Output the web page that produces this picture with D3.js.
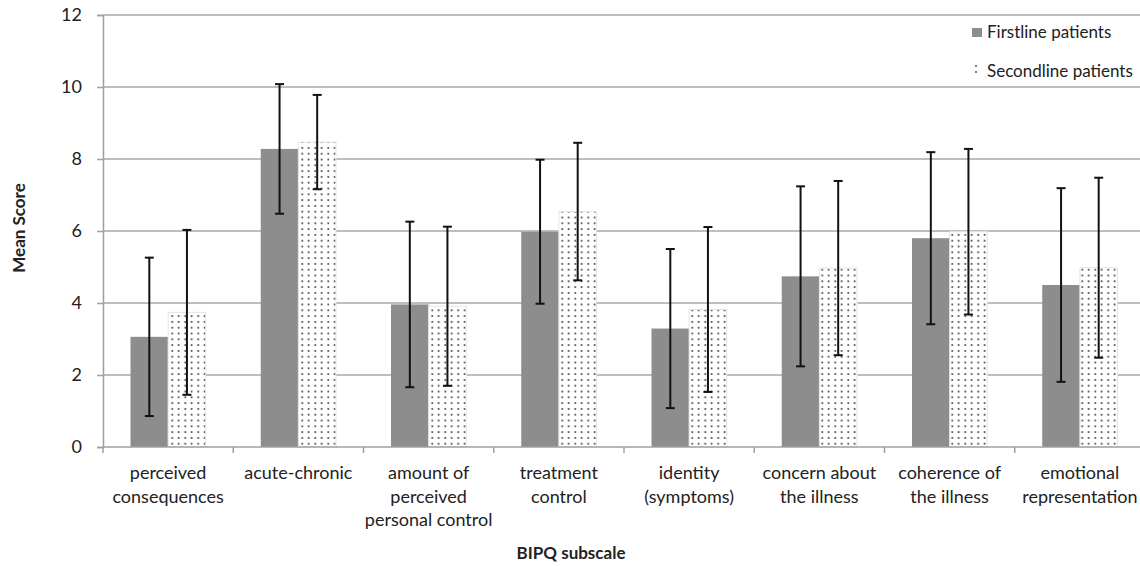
<!DOCTYPE html>
<html>
<head>
<meta charset="utf-8">
<script src="https://cdn.jsdelivr.net/npm/d3@7"></script>
<style>
  html, body { margin: 0; padding: 0; background: #fff; }
  svg { display: block; font-family: Lato, "Open Sans", sans-serif; }
</style>
</head>
<body>
<svg id="chart" width="1140" height="566"></svg>
<script>
const categories = [
  ["perceived", "consequences"],
  ["acute-chronic"],
  ["amount of", "perceived", "personal control"],
  ["treatment", "control"],
  ["identity", "(symptoms)"],
  ["concern about", "the illness"],
  ["coherence of", "the illness"],
  ["emotional", "representation"]
];
const seriesNames = ["Firstline patients", "Secondline patients"];
const firstlineMean = [3.06, 8.28, 3.96, 5.98, 3.29, 4.74, 5.80, 4.50];
const firstlineSD   = [2.20, 1.80, 2.30, 2.00, 2.21, 2.50, 2.39, 2.69];
const secondlineMean = [3.74, 8.47, 3.91, 6.54, 3.82, 4.97, 5.98, 4.98];
const secondlineSD   = [2.29, 1.31, 2.21, 1.91, 2.29, 2.42, 2.30, 2.50];
const yTicks = [0, 2, 4, 6, 8, 10, 12];

const svg = d3.select("#chart");
const margin = { left: 103, top: 15, right: -5, bottom: 119 };
const W = 1140, H = 566;
const x0 = margin.left, x1 = W - margin.right;
const yTop = margin.top, yBot = H - margin.bottom;
const FONT = "Lato, 'Open Sans', sans-serif";

const defs = svg.append("defs");
const pat = defs.append("pattern").attr("id", "dots")
  .attr("patternUnits", "userSpaceOnUse").attr("width", 6.5).attr("height", 5.8);
pat.append("rect").attr("width", 6.5).attr("height", 5.8).attr("fill", "#fff");
pat.append("circle").attr("cx", 3.2).attr("cy", 2.9).attr("r", 0.95).attr("fill", "#333");

const idx = d3.range(categories.length);
const x = d3.scaleBand().domain(idx).range([x0, x1]).paddingInner(0).paddingOuter(0);
const y = d3.scaleLinear().domain([0, 12]).range([yBot, yTop]);
const inner = d3.scaleBand().domain([0, 1]).range([27.5, x.bandwidth() - 27.5]);

// gridlines
svg.append("g").selectAll("line").data(yTicks.filter(t => t > 0)).join("line")
  .attr("x1", x0).attr("x2", x1)
  .attr("y1", d => y(d)).attr("y2", d => y(d))
  .attr("stroke", "#a8a8a8").attr("stroke-width", 1.6);

// y axis
const yAxis = svg.append("g").attr("transform", `translate(${x0},0)`)
  .call(d3.axisLeft(y).tickValues(yTicks).tickSize(6).tickPadding(15).tickFormat(d3.format("d")));
yAxis.select(".domain").attr("stroke", "#a0a0a0").attr("stroke-width", 1.5);
yAxis.selectAll(".tick line").attr("stroke", "#a0a0a0").attr("stroke-width", 1.5);
yAxis.selectAll("text").attr("font-size", 18).attr("fill", "#222").attr("font-family", FONT);

// bars
const data = idx.map(i => [
  { i, s: 0, m: firstlineMean[i], sd: firstlineSD[i] },
  { i, s: 1, m: secondlineMean[i], sd: secondlineSD[i] }
]).flat();

svg.append("g").selectAll("rect").data(data).join("rect")
  .attr("x", d => x(d.i) + inner(d.s))
  .attr("width", inner.bandwidth())
  .attr("y", d => y(d.m))
  .attr("height", d => y(0) - y(d.m))
  .attr("fill", d => d.s === 0 ? "#8d8d8d" : "url(#dots)")
  .attr("stroke", d => d.s === 0 ? "none" : "#e4e4e4")
  .attr("stroke-width", 1);

// x axis
const xAxisG = svg.append("g");
xAxisG.append("line").attr("x1", x0).attr("x2", x1).attr("y1", y(0)).attr("y2", y(0))
  .attr("stroke", "#a0a0a0").attr("stroke-width", 1.6);
xAxisG.selectAll("line.tk").data(d3.range(categories.length + 1)).join("line").attr("class", "tk")
  .attr("x1", d => x0 + d * x.step()).attr("x2", d => x0 + d * x.step())
  .attr("y1", y(0)).attr("y2", y(0) + 6)
  .attr("stroke", "#a0a0a0").attr("stroke-width", 1.5);
const lbl = xAxisG.selectAll("text").data(idx).join("text")
  .attr("text-anchor", "middle").attr("font-size", 18).attr("fill", "#222")
  .attr("x", d => x(d) + x.bandwidth() / 2)
  .attr("y", 479);
lbl.selectAll("tspan").data(d => categories[d].map(t => ({ t, d }))).join("tspan")
  .attr("x", e => x(e.d) + x.bandwidth() / 2)
  .attr("dy", (e, k) => k === 0 ? 0 : 23.5)
  .text(e => e.t);

// error bars
const eb = svg.append("g").attr("stroke", "#111").attr("stroke-width", 2);
data.forEach(d => {
  const cx = x(d.i) + inner(d.s) + inner.bandwidth() / 2;
  const yt = y(d.m + d.sd), yb = y(d.m - d.sd);
  eb.append("line").attr("x1", cx).attr("x2", cx).attr("y1", yt).attr("y2", yb);
  eb.append("line").attr("x1", cx - 4.5).attr("x2", cx + 4.5).attr("y1", yt).attr("y2", yt);
  eb.append("line").attr("x1", cx - 4.5).attr("x2", cx + 4.5).attr("y1", yb).attr("y2", yb);
});

// axis titles
svg.append("text").attr("x", 571).attr("y", 559).attr("text-anchor", "middle")
  .attr("font-weight", "bold").attr("font-size", 17).attr("fill", "#222").text("BIPQ subscale");
svg.append("text").attr("transform", "translate(25,228) rotate(-90)").attr("text-anchor", "middle")
  .attr("font-weight", "bold").attr("font-size", 17).attr("fill", "#222").text("Mean Score");

// legend
const lg = svg.append("g");
lg.append("rect").attr("x", 966).attr("y", 19).attr("width", 180).attr("height", 64).attr("fill", "#fff");
lg.append("rect").attr("x", 972).attr("y", 28).attr("width", 10).attr("height", 9).attr("fill", "#8d8d8d");
lg.append("circle").attr("cx", 976).attr("cy", 66).attr("r", 0.9).attr("fill", "#444");
lg.append("circle").attr("cx", 976).attr("cy", 72).attr("r", 0.9).attr("fill", "#444");
lg.append("text").attr("x", 987).attr("y", 38).attr("font-size", 17).attr("fill", "#222").text(seriesNames[0]);
lg.append("text").attr("x", 987).attr("y", 77).attr("font-size", 17).attr("fill", "#222").text(seriesNames[1]);
</script>
</body>
</html>
